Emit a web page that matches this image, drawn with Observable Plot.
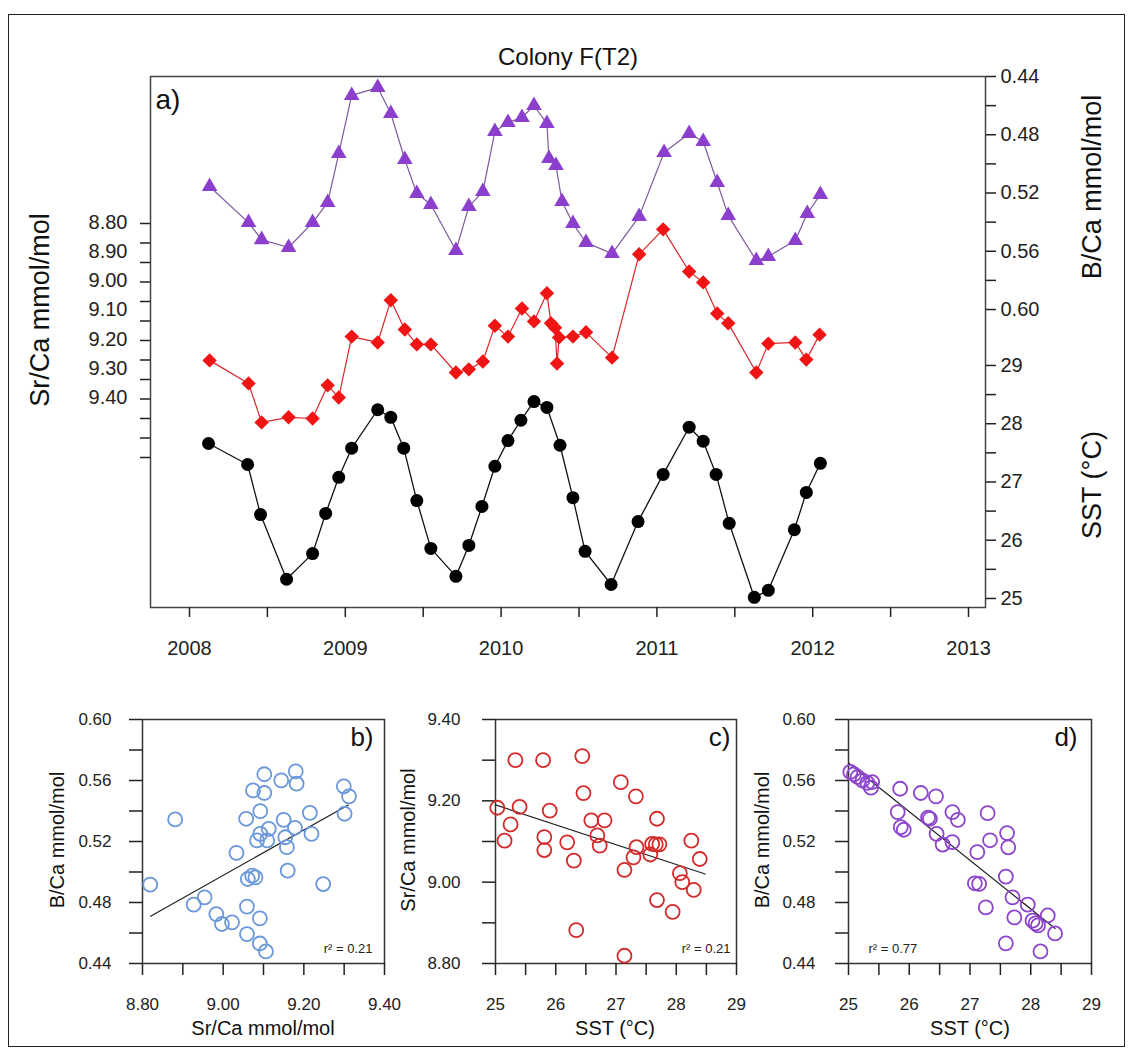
<!DOCTYPE html>
<html><head><meta charset="utf-8">
<script src="https://cdn.jsdelivr.net/npm/d3@7"></script>
<script src="https://cdn.jsdelivr.net/npm/@observablehq/plot@0.6"></script>
<style>
body{margin:0;background:#fff;font-family:Arial,"Liberation Sans",sans-serif;}
#wrap{position:relative;width:1132px;height:1054px;overflow:hidden;background:#fff;}
#border{position:absolute;left:8px;top:14px;width:1115px;height:1031px;border:1.5px solid #222;}
</style></head><body><div id="wrap"><div id="border"></div></div><script>
// ---------- data: panel a (time series) ----------
const sstYear = [2008.122, 2008.373, 2008.456, 2008.623, 2008.790, 2008.874, 2008.958, 2009.041, 2009.208, 2009.292, 2009.375, 2009.459, 2009.549, 2009.710, 2009.793, 2009.877, 2009.960, 2010.044, 2010.127, 2010.211, 2010.294, 2010.378, 2010.461, 2010.539, 2010.706, 2010.879, 2011.040, 2011.207, 2011.297, 2011.380, 2011.464, 2011.625, 2011.715, 2011.882, 2011.959, 2012.049];
const sstVal = [27.66, 27.30, 26.44, 25.33, 25.77, 26.46, 27.08, 27.58, 28.24, 28.11, 27.58, 26.68, 25.86, 25.38, 25.91, 26.58, 27.27, 27.71, 28.06, 28.38, 28.28, 27.63, 26.73, 25.81, 25.24, 26.32, 27.13, 27.94, 27.70, 27.13, 26.29, 25.02, 25.14, 26.18, 26.82, 27.32];
const bcaYear = [2008.129, 2008.379, 2008.463, 2008.636, 2008.790, 2008.887, 2008.958, 2009.041, 2009.208, 2009.292, 2009.382, 2009.459, 2009.549, 2009.710, 2009.793, 2009.883, 2009.960, 2010.044, 2010.134, 2010.211, 2010.294, 2010.307, 2010.352, 2010.391, 2010.461, 2010.545, 2010.712, 2010.886, 2011.046, 2011.207, 2011.297, 2011.387, 2011.458, 2011.638, 2011.715, 2011.888, 2011.965, 2012.049];
const bcaVal = [0.5155, 0.5403, 0.5520, 0.5574, 0.5403, 0.5265, 0.4929, 0.4530, 0.4476, 0.4654, 0.4970, 0.5204, 0.5279, 0.5595, 0.5293, 0.5190, 0.4778, 0.4716, 0.4682, 0.4599, 0.4723, 0.4963, 0.5011, 0.5259, 0.5410, 0.5540, 0.5616, 0.5362, 0.4922, 0.4791, 0.4846, 0.5128, 0.5355, 0.5664, 0.5636, 0.5526, 0.5341, 0.5210];
const srYear = [2008.129, 2008.379, 2008.463, 2008.636, 2008.790, 2008.887, 2008.958, 2009.041, 2009.208, 2009.292, 2009.382, 2009.459, 2009.549, 2009.710, 2009.793, 2009.883, 2009.960, 2010.044, 2010.134, 2010.211, 2010.294, 2010.320, 2010.346, 2010.359, 2010.372, 2010.461, 2010.545, 2010.712, 2010.886, 2011.040, 2011.207, 2011.297, 2011.387, 2011.458, 2011.638, 2011.715, 2011.888, 2011.959, 2012.044];
// Sr/Ca read against the axis tick marks (8.80 .. 9.40 every 0.05)
const srVal = [9.151, 9.210, 9.310, 9.297, 9.300, 9.215, 9.246, 9.090, 9.105, 8.997, 9.072, 9.110, 9.110, 9.182, 9.174, 9.154, 9.062, 9.090, 9.018, 9.051, 8.979, 9.056, 9.067, 9.159, 9.092, 9.090, 9.079, 9.144, 8.879, 8.815, 8.923, 8.951, 9.031, 9.056, 9.182, 9.108, 9.105, 9.149, 9.085];

// ticks, panel a
const yearTicks = [2008, 2008.5, 2009, 2009.5, 2010, 2010.5, 2011, 2011.5, 2012, 2012.5, 2013];
const yearLabels = [2008, 2009, 2010, 2011, 2012, 2013];
const srTickMarks = [8.80, 8.85, 8.90, 8.95, 9.00, 9.05, 9.10, 9.15, 9.20, 9.25, 9.30, 9.35, 9.40];
// the printed labels of the left axis (set more tightly than the tick marks in the original)
const srLabels = [8.80, 8.90, 9.00, 9.10, 9.20, 9.30, 9.40];
const bcaTicksA = [0.44, 0.46, 0.48, 0.50, 0.52, 0.54, 0.56, 0.58, 0.60];
const bcaLabelsA = [0.44, 0.48, 0.52, 0.56, 0.60];
const sstTicksA = [25, 25.5, 26, 26.5, 27, 27.5, 28, 28.5, 29];
const sstLabelsA = [25, 26, 27, 28, 29];

// ---------- data: panels b, c, d (scatter) ----------
const bSr = [8.819, 8.881, 8.927, 8.954, 8.983, 8.997, 9.022, 9.033, 9.059, 9.059, 9.057, 9.061, 9.072, 9.080, 9.074, 9.092, 9.102, 9.102, 9.091, 9.091, 9.106, 9.084, 9.092, 9.113, 9.109, 9.144, 9.150, 9.154, 9.158, 9.160, 9.178, 9.180, 9.182, 9.215, 9.219, 9.248, 9.299, 9.312, 9.301];
const bBca = [0.4917, 0.5345, 0.4786, 0.4834, 0.4724, 0.4659, 0.4670, 0.5125, 0.4593, 0.4773, 0.5349, 0.4954, 0.4976, 0.4965, 0.5535, 0.5399, 0.5641, 0.5518, 0.4696, 0.4531, 0.4479, 0.5207, 0.5250, 0.5283, 0.5207, 0.5601, 0.5342, 0.5228, 0.5163, 0.5009, 0.5290, 0.5660, 0.5579, 0.5388, 0.5250, 0.4921, 0.5562, 0.5496, 0.5382];
const cSst = [25.03, 25.15, 25.25, 25.33, 25.40, 25.79, 25.81, 25.81, 25.90, 26.19, 26.30, 26.34, 26.44, 26.46, 26.59, 26.69, 26.73, 26.81, 27.08, 27.14, 27.14, 27.29, 27.33, 27.34, 27.57, 27.60, 27.66, 27.68, 27.72, 27.68, 27.94, 28.06, 28.10, 28.25, 28.29, 28.39];
const cSr = [9.183, 9.102, 9.142, 9.300, 9.185, 9.300, 9.111, 9.079, 9.176, 9.098, 9.053, 8.882, 9.310, 9.219, 9.152, 9.115, 9.090, 9.152, 9.246, 9.030, 8.819, 9.061, 9.211, 9.086, 9.068, 9.094, 9.093, 9.156, 9.093, 8.956, 8.927, 9.022, 9.000, 9.102, 8.981, 9.057];
const dSst = [25.03, 25.09, 25.15, 25.23, 25.31, 25.39, 25.37, 25.85, 25.81, 25.86, 25.91, 26.19, 26.44, 26.31, 26.34, 26.45, 26.55, 26.71, 26.71, 26.80, 27.12, 27.08, 27.15, 27.26, 27.29, 27.33, 27.61, 27.63, 27.59, 27.70, 27.73, 27.59, 27.95, 28.03, 28.08, 28.16, 28.28, 28.40, 28.12];
const dBca = [0.5656, 0.5641, 0.5623, 0.5601, 0.5584, 0.5590, 0.5553, 0.5546, 0.5393, 0.5294, 0.5277, 0.5518, 0.5496, 0.5356, 0.5349, 0.5250, 0.5180, 0.5196, 0.5393, 0.5342, 0.5130, 0.4926, 0.4922, 0.4768, 0.5386, 0.5208, 0.5255, 0.5162, 0.4970, 0.4834, 0.4702, 0.4532, 0.4786, 0.4681, 0.4663, 0.4479, 0.4715, 0.4597, 0.4650];
// regression line end points
const fitBx = [8.82, 9.31], fitBy = [0.471, 0.544];
const fitCx = [25.0, 28.48], fitCy = [9.19, 9.02];
const fitDx = [25.0, 28.40], fitDy = [0.5715, 0.463];
const rLabels = ["r² = 0.21", "r² = 0.21", "r² = 0.77"];

const bcaTicksS = [0.44, 0.46, 0.48, 0.50, 0.52, 0.54, 0.56, 0.58, 0.60];
const bcaLabelsS = [0.44, 0.48, 0.52, 0.56, 0.60];
const srTicksS = [8.80, 8.90, 9.00, 9.10, 9.20, 9.30, 9.40];
const srLabelsS = [8.80, 9.00, 9.20, 9.40];
const sstTicksS = [25, 25.5, 26, 26.5, 27, 27.5, 28, 28.5, 29];
const sstLabelsS = [25, 26, 27, 28, 29];

// ---------- helpers ----------
const wrap = document.getElementById("wrap");
const FONT = "Arial, 'Liberation Sans', sans-serif";
const f2 = d3.format(".2f");
const has = (arr, d) => arr.some(v => Math.abs(v - d) < 1e-6);
function put(svg, left, top) {
  svg.style.position = "absolute";
  svg.style.left = left + "px";
  svg.style.top = top + "px";
  svg.style.maxWidth = "none";
  wrap.appendChild(svg);
}
function txt(str, x, y, size, rot) {
  const d = document.createElement("div");
  d.textContent = str;
  d.style.cssText = `position:absolute;left:${x}px;top:${y}px;font-size:${size}px;line-height:1;white-space:nowrap;color:#111;font-family:${FONT};transform:translate(-50%,-50%)${rot ? " rotate(-90deg)" : ""};`;
  wrap.appendChild(d);
}
const zip = (a, b) => a.map((v, i) => ({x: v, y: b[i]}));

// ---------- panel a ----------
const A = {width: 1132, height: 680, marginLeft: 150, marginRight: 147, marginTop: 76, marginBottom: 73};
const xDomA = [2007.7497, 2013.109];
const styleA = {fontFamily: FONT, fontSize: "20px", color: "#222", background: "transparent", overflow: "visible"};

const sst = zip(sstYear, sstVal), bca = zip(bcaYear, bcaVal), sr = zip(srYear, srVal);

put(Plot.plot({...A, x: {domain: xDomA, label: null}, y: {domain: [24.845, 33.961], label: null}, style: styleA, marks: [
  Plot.frame({stroke: "#444", strokeWidth: 1.5}),
  Plot.axisX({ticks: yearTicks, tickSize: 10, tickFormat: () => "", label: null, strokeWidth: 1.5}),
  Plot.axisX({ticks: yearLabels, tickSize: 0, tickPadding: 33, tickFormat: d => String(d), label: null}),
  Plot.axisY({anchor: "right", ticks: sstTicksA, tickSize: 10, tickFormat: () => "", label: null, strokeWidth: 1.5}),
  Plot.axisY({anchor: "right", ticks: sstLabelsA, tickSize: 0, tickPadding: 15, tickFormat: d => String(d), label: null}),
  Plot.line(sst, {x: "x", y: "y", stroke: "#111", strokeWidth: 1.3}),
  Plot.dot(sst, {x: "x", y: "y", r: 6.5, fill: "#000", stroke: "none"})
]}), 0, 0);

put(Plot.plot({...A, x: {domain: xDomA, axis: null}, y: {domain: [0.44, 0.8046], reverse: true, label: null}, style: styleA, marks: [
  Plot.axisY({anchor: "right", ticks: bcaTicksA, tickSize: 10, tickFormat: () => "", label: null, strokeWidth: 1.5}),
  Plot.axisY({anchor: "right", ticks: bcaLabelsA, tickSize: 0, tickPadding: 15, tickFormat: f2, label: null}),
  Plot.line(bca, {x: "x", y: "y", stroke: "#7d5a9e", strokeWidth: 1.2}),
  Plot.dot(bca, {x: "x", y: "y", symbol: "triangle", r: 5.8, fill: "#8b3fcc", stroke: "none"})
]}), 0, 0);

// Sr/Ca data on the scale of the tick marks
put(Plot.plot({...A, x: {domain: xDomA, axis: null}, y: {domain: [8.4231, 9.7846], reverse: true, label: null}, style: styleA, marks: [
  Plot.axisY({anchor: "left", ticks: srTickMarks, tickSize: 10, tickFormat: () => "", label: null, strokeWidth: 1.5}),
  Plot.line(sr, {x: "x", y: "y", stroke: "#d9262a", strokeWidth: 1.2}),
  Plot.dot(sr, {x: "x", y: "y", symbol: "diamond2", r: 6.5, fill: "#f01414", stroke: "none"})
]}), 0, 0);

// printed Sr/Ca labels, spaced as in the original figure
put(Plot.plot({...A, x: {domain: xDomA, axis: null}, y: {domain: [8.2995, 10.1199], reverse: true, label: null}, style: styleA, marks: [
  Plot.axisY({anchor: "left", ticks: srLabels, tickSize: 0, tickPadding: 23, tickFormat: f2, label: null})
]}), 0, 0);

txt("Colony F(T2)", 568, 57, 24);
txt("a)", 168, 100, 28);
txt("Sr/Ca mmol/mol", 40, 310, 27, true);
txt("B/Ca mmol/mol", 1092, 187, 27, true);
txt("SST (°C)", 1092, 485, 27, true);

// ---------- scatter panels ----------
const styleS = {fontFamily: FONT, fontSize: "17px", color: "#222", background: "transparent", overflow: "visible"};
function scatter({left, mL, mR, xDom, yDom, xTicks, xLabels, xFmt, yTicks, yLabels, yFmt, yPad, pts, fit, color, tag, tagDx, r2, r2Anchor, r2Dx}) {
  return put(Plot.plot({
    width: 400, height: 350, marginLeft: mL, marginRight: mR, marginTop: 29, marginBottom: 77,
    x: {domain: xDom, label: null}, y: {domain: yDom, label: null}, style: styleS,
    marks: [
      Plot.frame({stroke: "#333", strokeWidth: 1.5}),
      Plot.axisY({ticks: yTicks, tickSize: 13, tickPadding: yPad, tickFormat: d => has(yLabels, d) ? yFmt(d) : "", label: null, strokeWidth: 1.5}),
      Plot.axisX({ticks: xTicks, tickSize: 12, tickPadding: 22, tickFormat: d => has(xLabels, d) ? xFmt(d) : "", label: null, strokeWidth: 1.5}),
      Plot.line(fit, {x: "x", y: "y", stroke: "#222", strokeWidth: 1.2}),
      Plot.dot(pts, {x: "x", y: "y", r: 7, stroke: color, strokeWidth: 1.8, fill: "none"}),
      Plot.text([tag], {frameAnchor: "top-right", dx: tagDx, dy: 8, fontSize: 26, fill: "#111"}),
      Plot.text([r2], {frameAnchor: r2Anchor, dx: r2Dx, dy: -11, fontSize: 13, fill: "#222"})
    ]
  }), left, 690);
}
scatter({left: 0, mL: 142, mR: 16, xDom: [8.80, 9.40], yDom: [0.44, 0.60],
  xTicks: srTicksS, xLabels: srLabelsS, xFmt: f2, yTicks: bcaTicksS, yLabels: bcaLabelsS, yFmt: f2, yPad: 18,
  pts: zip(bSr, bBca), fit: zip(fitBx, fitBy), color: "#6a98da", tag: "b)", tagDx: -11, r2: rLabels[0], r2Anchor: "bottom-right", r2Dx: -12});
scatter({left: 360, mL: 135, mR: 24, xDom: [25, 29], yDom: [8.80, 9.40],
  xTicks: sstTicksS, xLabels: sstLabelsS, xFmt: d => String(d), yTicks: srTicksS, yLabels: srLabelsS, yFmt: f2, yPad: 22,
  pts: zip(cSst, cSr), fit: zip(fitCx, fitCy), color: "#d42a2a", tag: "c)", tagDx: -6, r2: rLabels[1], r2Anchor: "bottom-right", r2Dx: -6});
scatter({left: 720, mL: 128, mR: 29, xDom: [25, 29], yDom: [0.44, 0.60],
  xTicks: sstTicksS, xLabels: sstLabelsS, xFmt: d => String(d), yTicks: bcaTicksS, yLabels: bcaLabelsS, yFmt: f2, yPad: 20,
  pts: zip(dSst, dBca), fit: zip(fitDx, fitDy), color: "#8c45cc", tag: "d)", tagDx: -14, r2: rLabels[2], r2Anchor: "bottom-left", r2Dx: 20});

txt("B/Ca mmol/mol", 57, 840, 20, true);
txt("Sr/Ca mmol/mol", 408, 840, 20, true);
txt("B/Ca mmol/mol", 762, 840, 20, true);
txt("Sr/Ca mmol/mol", 263, 1028, 20);
txt("SST (°C)", 615, 1028, 20);
txt("SST (°C)", 970, 1028, 20);
</script></body></html>
